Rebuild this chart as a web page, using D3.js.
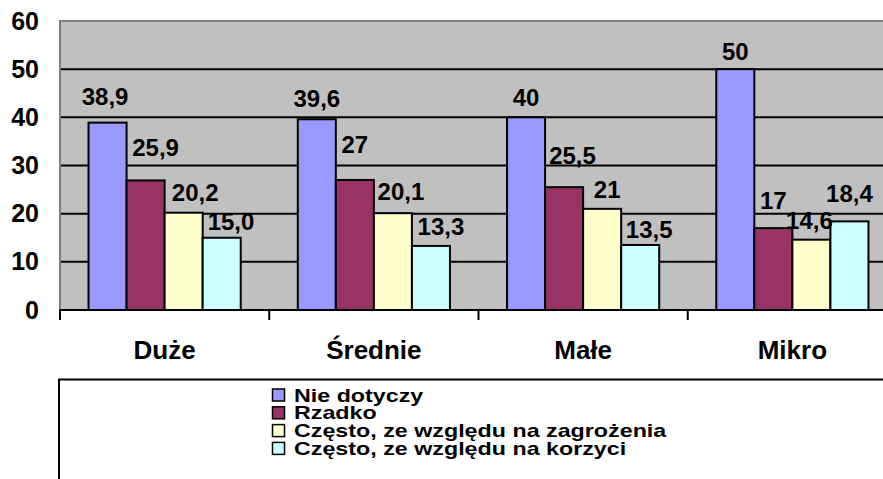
<!DOCTYPE html>
<html>
<head>
<meta charset="utf-8">
<style>
  body { margin: 0; background: #fff; }
  svg { display: block; font-family: "Liberation Sans", Arial, sans-serif; font-weight: bold; }
</style>
</head>
<body>
<svg width="883" height="479"></svg>
<script src="https://cdnjs.cloudflare.com/ajax/libs/d3/7.8.5/d3.min.js"></script>
<script>

// data
var categories = ["Duże", "Średnie", "Małe", "Mikro"];
var seriesNames = ["Nie dotyczy", "Rzadko", "Często, ze względu na zagrożenia", "Często, ze względu na korzyci"];
var nieDotyczy = [38.9, 39.6, 40, 50];
var rzadko = [26.9, 27, 25.5, 17];
var czestoZagrozenia = [20.2, 20.1, 21, 14.6];
var czestoKorzysci = [15.0, 13.3, 13.5, 18.4];
// label texts as printed on the chart
var nieDotyczyLabels = ["38,9", "39,6", "40", "50"];
var rzadkoLabels = ["25,9", "27", "25,5", "17"];
var zagrozeniaLabels = ["20,2", "20,1", "21", "14,6"];
var korzysciLabels = ["15,0", "13,3", "13,5", "18,4"];
var yTicks = [0, 10, 20, 30, 40, 50, 60];

var colors = ["#9999FF", "#993366", "#FFFFCC", "#CCFFFF"];

// labels were dragged by hand in the original; small per-label nudges [dx, dy]
var labelNudge = [
  [[-2.5, -7], [0, -1], [0, 0], [0, 2]],
  [[10, -13], [0, -16], [8.4, -12], [0, -8]],
  [[11.5, -1], [8, -2], [5, 0], [-2, 0]],
  [[9.3, 3], [10, 0], [9, 4], [0, -8]]
];

var values = [nieDotyczy, rzadko, czestoZagrozenia, czestoKorzysci];
var labels = [nieDotyczyLabels, rzadkoLabels, zagrozeniaLabels, korzysciLabels];

var svg = d3.select("svg");

var plotLeft = 60, plotTop = 21, plotBottom = 310, plotRight = 897;

var y = d3.scaleLinear().domain([0, 60]).range([plotBottom, plotTop]);
var x0 = d3.scaleBand().domain(categories).range([plotLeft, plotRight]).padding(0);
var x1 = d3.scaleBand().domain(d3.range(seriesNames.length))
    .range([0, x0.bandwidth()]).paddingInner(0).paddingOuter(0.75);

// plot area
svg.append("rect")
    .attr("x", plotLeft)
    .attr("y", y(60))
    .attr("width", plotRight - plotLeft + 10)
    .attr("height", y(0) - y(60))
    .attr("fill", "#C0C0C0")
    .attr("stroke", "#808080")
    .attr("stroke-width", 2);

// gridlines
svg.append("g")
  .selectAll("line")
    .data(yTicks.filter(function(d) { return d > 0 && d < 60; }))
  .enter().append("line")
    .attr("x1", plotLeft + 1)
    .attr("x2", 883)
    .attr("y1", function(d) { return y(d); })
    .attr("y2", function(d) { return y(d); })
    .attr("stroke", "#000")
    .attr("stroke-width", 2);

// y axis labels
var yAxis = svg.append("g")
    .attr("transform", "translate(" + plotLeft + ",0)")
    .call(d3.axisLeft(y).tickValues(yTicks).tickSize(0).tickPadding(21));
yAxis.select(".domain").remove();
yAxis.selectAll("text")
    .attr("fill", "#000")
    .style("font-size", "25px")
    .style("font-family", "'Liberation Sans', Arial, sans-serif")
    .style("font-weight", "bold");

// bars
var groups = svg.append("g").selectAll("g")
    .data(categories)
  .enter().append("g")
    .attr("transform", function(d) { return "translate(" + x0(d) + ",0)"; });

groups.selectAll("rect")
    .data(function(c, ci) { return values.map(function(s, si) { return { si: si, v: s[ci] }; }); })
  .enter().append("rect")
    .attr("x", function(d) { return x1(d.si); })
    .attr("y", function(d) { return y(d.v); })
    .attr("width", x1.bandwidth())
    .attr("height", function(d) { return y(0) - y(d.v); })
    .attr("fill", function(d) { return colors[d.si]; })
    .attr("stroke", "#000")
    .attr("stroke-width", 2);

// data labels
groups.selectAll("text.val")
    .data(function(c, ci) {
      return values.map(function(s, si) { return { si: si, ci: ci, v: s[ci], t: labels[si][ci] }; });
    })
  .enter().append("text")
    .attr("class", "val")
    .attr("x", function(d) { return x1(d.si) + x1.bandwidth() / 2 + labelNudge[d.si][d.ci][0]; })
    .attr("y", function(d) { return y(d.v) - 11 + labelNudge[d.si][d.ci][1]; })
    .attr("text-anchor", "middle")
    .style("font-size", "24px")
    .text(function(d) { return d.t; });

// category axis
svg.append("line")
    .attr("x1", plotLeft - 1).attr("x2", 883)
    .attr("y1", plotBottom).attr("y2", plotBottom)
    .attr("stroke", "#000").attr("stroke-width", 2);

svg.append("g").selectAll("line")
    .data(categories)
  .enter().append("line")
    .attr("x1", function(d) { return x0(d); })
    .attr("x2", function(d) { return x0(d); })
    .attr("y1", plotBottom)
    .attr("y2", plotBottom + 10)
    .attr("stroke", "#000")
    .attr("stroke-width", 2);

svg.append("g").selectAll("text")
    .data(categories)
  .enter().append("text")
    .attr("x", function(d) { return x0(d) + x0.bandwidth() / 2; })
    .attr("y", 359)
    .attr("text-anchor", "middle")
    .style("font-size", "26px")
    .text(function(d) { return d; });

// legend
svg.append("rect")
    .attr("x", 59)
    .attr("y", 379.5)
    .attr("width", 900)
    .attr("height", 200)
    .attr("fill", "#fff")
    .attr("stroke", "#000")
    .attr("stroke-width", 2);

var legend = svg.append("g").selectAll("g")
    .data(seriesNames)
  .enter().append("g")
    .attr("transform", function(d, i) { return "translate(272," + (401.5 + i * 17.8) + ")"; });

legend.append("rect")
    .attr("x", 0.5)
    .attr("y", -12.5)
    .attr("width", 12)
    .attr("height", 12)
    .attr("fill", function(d, i) { return colors[i]; })
    .attr("stroke", "#000")
    .attr("stroke-width", 1.5);

legend.append("text")
    .attr("transform", "translate(22,0) scale(1.33,1)")
    .style("font-size", "17.5px")
    .text(function(d) { return d; });

</script>
</body>
</html>
